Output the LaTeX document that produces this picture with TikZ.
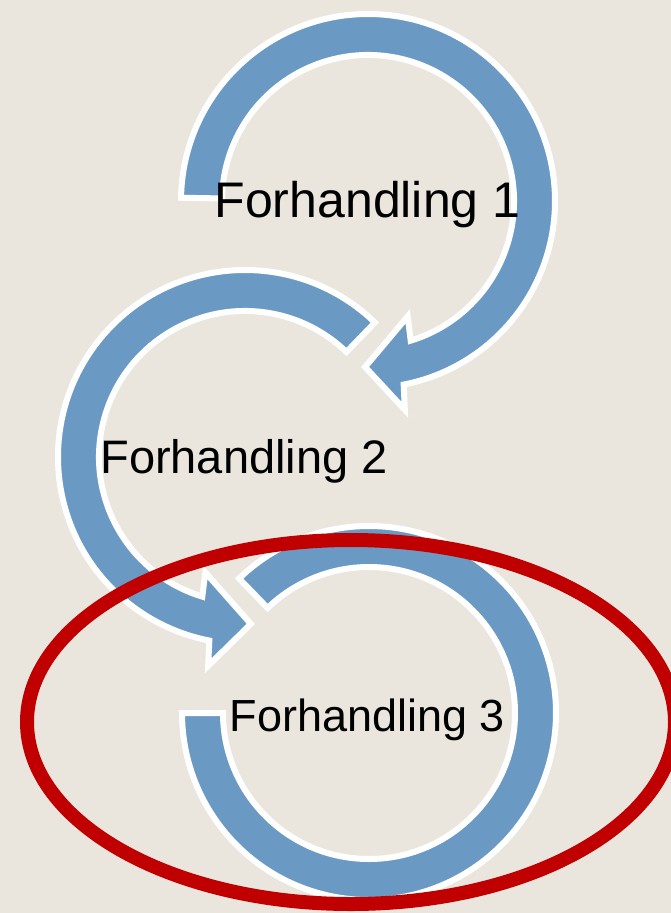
\documentclass[tikz,border=0pt]{standalone}
\usepackage{fontspec}
\setmainfont{Liberation Sans}
\usetikzlibrary{calc}
\definecolor{paper}{HTML}{EAE6DD}
\definecolor{arrowblue}{HTML}{6A9AC4}
\definecolor{markred}{HTML}{C00000}
\begin{document}
\begin{tikzpicture}[x=1pt,y=-1pt,
  cyclearrow/.style={fill=arrowblue, draw=white, line width=6pt, line join=miter, miter limit=6},
  ring/.style={draw=markred, line width=14pt},
  steplabel/.style={anchor=base, inner sep=0pt, text=black}]
% page and background
\fill[paper] (0,0) rectangle (671,913);
\useasboundingbox (0,0) rectangle (671,913);
\clip (0,0) rectangle (671,913);

% centres of the three circular arrows
\coordinate (c1) at (368,201);
\coordinate (c2) at (245,457);
\coordinate (c3) at (369,713);

% arrow 1: clockwise, head at the bottom pointing left
\draw[cyclearrow] ($(c1)+(181:187)$) arc[start angle=181, end angle=439, radius=187]
  -- ($(c1)+(80:212)$) -- ($(c1)+(91:166)$) -- ($(c1)+(71:122)$) -- ($(c1)+(73:146)$)
  arc[start angle=433, end angle=181, radius=146] -- cycle;

% arrow 2: counter-clockwise, head at the bottom pointing right
\draw[cyclearrow] ($(c2)+(-46:187)$) arc[start angle=-46, end angle=-259, radius=187]
  -- ($(c2)+(100:212)$) -- ($(c2)+(88:167)$) -- ($(c2)+(109:122)$) -- ($(c2)+(107:146)$)
  arc[start angle=107, end angle=314, radius=146] -- cycle;

% arrow 3: clockwise, no head
\draw[cyclearrow] ($(c3)+(-134:187)$) arc[start angle=-134, end angle=180, radius=187]
  -- ($(c3)+(180:146)$)
  arc[start angle=180, end angle=-134, radius=146] -- cycle;

% step labels
\node[steplabel, font=\fontsize{50}{60}\selectfont] (t1) at (367.5,217) {Forhandling 1};
\node[steplabel, font=\fontsize{47}{56}\selectfont] (t2) at (244,473) {Forhandling 2};
\node[steplabel, font=\fontsize{45}{54}\selectfont] (t3) at (367.5,731) {Forhandling 3};

% highlight ring around the last step
\coordinate (e) at (351,722);
\draw[ring] (e) ellipse [x radius=324, y radius=182];
\end{tikzpicture}
\end{document}
